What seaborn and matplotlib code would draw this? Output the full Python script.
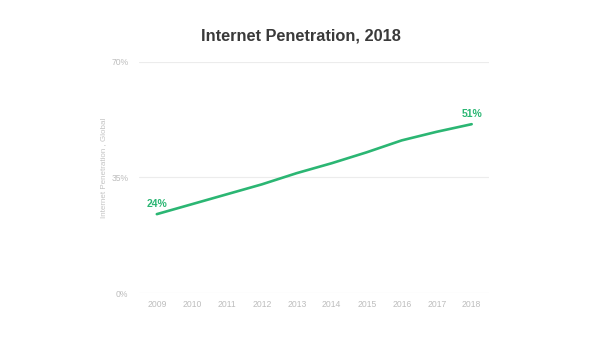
import matplotlib
matplotlib.use("Agg")
import matplotlib.pyplot as plt
import seaborn as sns
import pandas as pd

years = ["2009", "2010", "2011", "2012", "2013", "2014", "2015", "2016", "2017", "2018"]
penetration = [23.9, 26.9, 29.9, 32.9, 36.3, 39.3, 42.6, 46.2, 48.8, 51.1]
yticks = [0, 35, 70]
ytick_labels = ["0%", "35%", "70%"]
title = "Internet Penetration, 2018"
ylabel = "Internet Penetration , Global"

sns.set_theme(style="white")
plt.rcParams['font.family'] = ['Liberation Sans', 'DejaVu Sans']

df = pd.DataFrame({"year": years, "value": penetration})
df["pos"] = range(len(years))

fig = plt.figure(figsize=(5.98, 3.37), dpi=100)
ax = fig.add_axes([0.233, 0.130, 0.585, 0.687])

green = "#2bb673"
sns.lineplot(data=df, x="pos", y="value", ax=ax, color=green, linewidth=1.9)

ax.set_xlim(-0.5, len(years) - 0.5)
ax.set_ylim(0, 70)
ax.set_yticks(yticks)
ax.set_yticklabels(ytick_labels)
ax.set_xticks(df["pos"])
ax.set_xticklabels(years)
ax.tick_params(axis="both", length=0, labelsize=6.2, colors="#bdbdbd")
ax.tick_params(axis="y", pad=8)
ax.tick_params(axis="x", pad=5)
for yv in yticks:
    ax.axhline(yv, color="#ececec", linewidth=0.8, zorder=0)
for s in ax.spines.values():
    s.set_visible(False)

ax.set_xlabel("")
ax.set_ylabel(ylabel, fontsize=5.8, color="#c4c4c4", labelpad=2)
ax.yaxis.set_label_coords(-0.091, 0.54)

for i in [0, len(years) - 1]:
    ax.annotate(f"{round(penetration[i])}%", (i, penetration[i]), xytext=(0, 3.5),
                textcoords="offset points", ha="center", va="bottom",
                fontsize=7.5, fontweight="bold", color=green)

fig.text(0.504, 0.893, title, ha="center", va="center", fontsize=11.8,
         fontweight="bold", color="#3a3a3a")

fig.savefig("out.png", dpi=100, facecolor="white")
